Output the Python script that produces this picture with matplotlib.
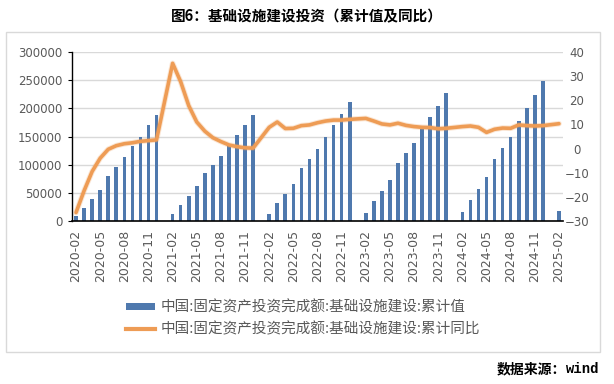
import numpy as np
import matplotlib
matplotlib.use("Agg")
import matplotlib.pyplot as plt
from matplotlib.patches import Rectangle
from matplotlib.lines import Line2D
from matplotlib.patches import Patch

plt.rcParams['font.family'] = ['Noto Sans CJK SC', 'DejaVu Sans']

nan = np.nan
months = ([f"2020-{m:02d}" for m in range(2, 13)] +
          [f"{y}-{m:02d}" for y in (2021, 2022, 2023, 2024) for m in range(1, 13)] +
          ["2025-01", "2025-02"])

cum_value = [
    8900, 23000, 39000, 55000, 80000, 96000, 113600, 133000, 150000, 170000, 188000,
    nan, 13000, 29000, 45000, 62700, 85800, 100000, 115400, 133700, 152700, 170400, 188200,
    nan, 13000, 32000, 48500, 65700, 94700, 110700, 128400, 149700, 170400, 190500, 211800,
    nan, 14800, 35500, 53800, 72800, 103000, 120700, 138500, 163900, 184600, 204100, 227200,
    nan, 16000, 37300, 56800, 78700, 110700, 129600, 149100, 177500, 200600, 223700, 249100,
    nan, 17750,
]
cum_yoy = [
    -26.5, -17.5, -9.5, -4.0, -0.3, 1.2, 2.0, 2.4, 3.0, 3.3, 3.6,
    nan, 35.3, 27.7, 17.8, 11.0, 7.2, 4.5, 2.9, 1.5, 0.8, 0.3, 0.2,
    nan, 8.8, 11.0, 8.3, 8.4, 9.5, 9.8, 10.7, 11.4, 11.8, 11.8, 12.1,
    nan, 12.5, 11.4, 10.2, 9.8, 10.5, 9.6, 9.1, 8.8, 8.7, 8.2, 8.4,
    nan, 9.1, 9.35, 8.8, 6.7, 8.0, 8.5, 8.4, 9.8, 9.5, 9.35, 9.5,
    nan, 10.3,
]
tick_labels = months[::3]

label_bar = "中国:固定资产投资完成额:基础设施建设:累计值"
label_line = "中国:固定资产投资完成额:基础设施建设:累计同比"
title = "图6：基础设施建设投资（累计值及同比）"

W, H = 614, 384
fig = plt.figure(figsize=(W / 100, H / 100), dpi=100)
ax = fig.add_axes([72 / W, 1 - 221 / H, (563 - 72) / W, (221 - 52) / H])
ax2 = ax.twinx()

x = np.arange(len(months))
v = np.array(cum_value, dtype=float)
y = np.array(cum_yoy, dtype=float)

bar_color = "#4F79AE"
line_color = "#EE9C55"
grey = "#595959"

ax.bar(x, v, width=0.45, color=bar_color, zorder=2)
ax.set_ylim(0, 300000)
ax.set_yticks(np.arange(0, 300001, 50000))
ax.set_xlim(-0.5, len(months) - 0.5)
ax.set_xticks(x[::3])
ax.set_xticklabels(tick_labels, rotation=90)
ax.grid(axis='y', color="#D9D9D9", lw=1, zorder=0)
ax.set_axisbelow(True)

m = ~np.isnan(y)
ax2.plot(x[m], y[m], color=line_color, lw=4, alpha=0.25, solid_joinstyle='round', solid_capstyle='round', zorder=3)
ax2.plot(x[m], y[m], color=line_color, lw=2.6, solid_joinstyle='round', solid_capstyle='round', zorder=4)
ax2.set_ylim(-30, 40)
ax2.set_yticks(np.arange(-30, 41, 10))

for a in (ax, ax2):
    for s in ('top', 'right'):
        a.spines[s].set_visible(False)
ax2.spines['left'].set_visible(False)
ax2.spines['bottom'].set_visible(False)
ax.spines['left'].set_color('black')
ax.spines['bottom'].set_color('black')
ax.spines['left'].set_linewidth(1)
ax.spines['bottom'].set_linewidth(1.2)

ax.tick_params(axis='y', length=3, width=0.8, pad=4, labelsize=8.5, labelcolor=grey,
               labelfontfamily='DejaVu Sans')
ax.tick_params(axis='x', length=0, pad=6.5, labelsize=9, labelcolor=grey,
               labelfontfamily='DejaVu Sans')
ax2.tick_params(axis='y', length=0, pad=10, labelsize=8.5, labelcolor=grey,
                labelfontfamily='DejaVu Sans')
for t in ax2.get_yticklabels():
    t.set_horizontalalignment('center')

# outer frame
fig.patches.append(Rectangle((6 / W, 1 - 352 / H), (600 - 6) / W, (352 - 32) / H,
                             transform=fig.transFigure, fill=False, edgecolor="#D9D9D9", lw=1))

handles = [Patch(facecolor=bar_color, edgecolor='none'),
           Line2D([0], [0], color=line_color, lw=3)]
fig.legend(handles, [label_bar, label_line], loc='upper left',
           bbox_to_anchor=(126 / W, 1 - 300 / H), frameon=False,
           fontsize=10.5, labelcolor=grey, handlelength=2.0, handleheight=0.4,
           handletextpad=0.4, labelspacing=0.5, borderaxespad=0, borderpad=0)

fig.text(307 / W, 1 - 16 / H, title, ha='center', va='center', fontsize=10.5,
         fontweight='bold', color='black')
fig.text(566 / W, 1 - 369 / H, "数据来源：", ha='right', va='center', fontsize=10,
         fontweight='bold', color='black')
fig.text(566 / W, 1 - 369 / H, "wind", ha='left', va='center', fontsize=10,
         fontweight='bold', color='black', family='Liberation Mono')

fig.savefig("out.png", dpi=100)
